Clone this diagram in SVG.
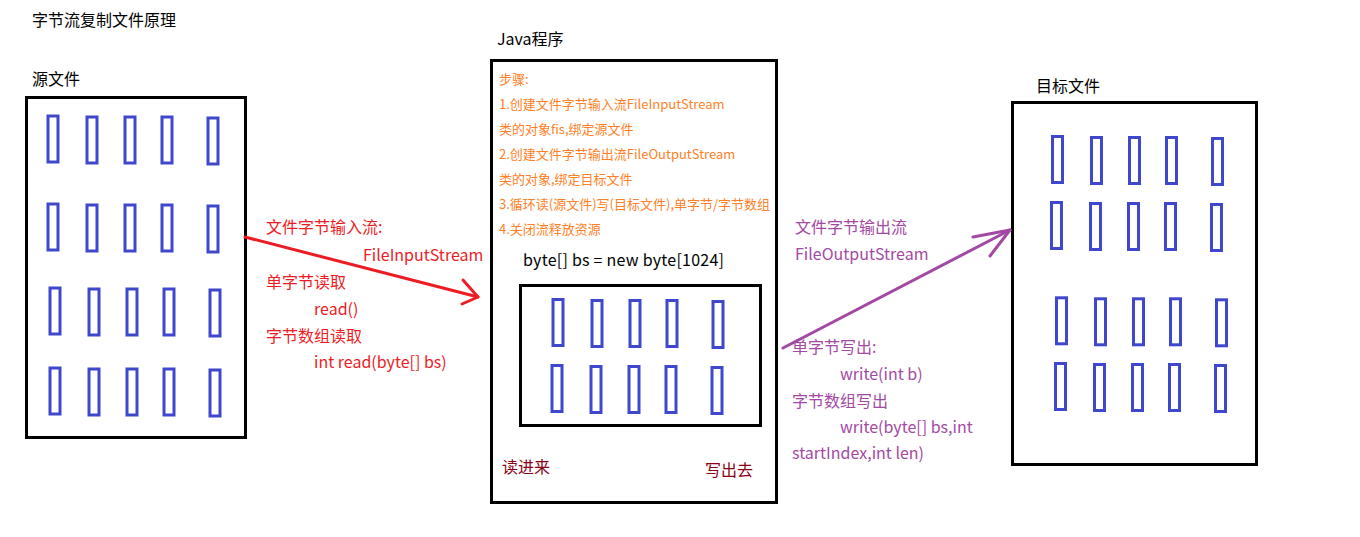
<svg xmlns="http://www.w3.org/2000/svg" width="1360" height="537" viewBox="0 0 1360 537">
<style>
text{font-family:"Noto Sans CJK SC","Microsoft YaHei",sans-serif;}
.box{fill:none;stroke:#000;stroke-width:3;}
.cell{fill:none;stroke:#3f48cc;stroke-width:3;}
.title{font-size:16px;fill:#000;}
.step{font-size:13px;fill:#ff7f27;}
.red{font-size:16px;fill:#ed1c24;}
.pur{font-size:16px;fill:#a349a4;}
.dred{font-size:16px;fill:#880015;}
.code{font-size:16px;fill:#000;}
</style>
<rect width="1360" height="537" fill="#fff"/>
<text class="title" x="32" y="26">字节流复制文件原理</text>

<g id="source">
<text class="title" x="32" y="85">源文件</text>
<rect class="box" x="26.5" y="97.5" width="219" height="340"/>
<rect class="cell" x="48" y="116" width="10" height="46"/>
<rect class="cell" x="87" y="117" width="10" height="46"/>
<rect class="cell" x="125" y="117" width="10" height="46"/>
<rect class="cell" x="162" y="117" width="10" height="46"/>
<rect class="cell" x="208" y="118" width="10" height="46"/>
<rect class="cell" x="48" y="204" width="10" height="46"/>
<rect class="cell" x="87" y="205" width="10" height="46"/>
<rect class="cell" x="125" y="205" width="10" height="46"/>
<rect class="cell" x="162" y="205" width="10" height="46"/>
<rect class="cell" x="208" y="206" width="10" height="46"/>
<rect class="cell" x="50" y="288" width="10" height="46"/>
<rect class="cell" x="89" y="289" width="10" height="46"/>
<rect class="cell" x="127" y="289" width="10" height="46"/>
<rect class="cell" x="164" y="289" width="10" height="46"/>
<rect class="cell" x="210" y="290" width="10" height="46"/>
<rect class="cell" x="50" y="368" width="10" height="46"/>
<rect class="cell" x="89" y="369" width="10" height="46"/>
<rect class="cell" x="127" y="369" width="10" height="46"/>
<rect class="cell" x="164" y="369" width="10" height="46"/>
<rect class="cell" x="210" y="370" width="10" height="46"/>
</g>

<g id="program">
<text class="title" x="497" y="45">Java程序</text>
<rect class="box" x="491.5" y="60.5" width="285" height="442"/>
<text class="step" x="499" y="84">步骤:</text>
<text class="step" x="499" y="109">1.创建文件字节输入流FileInputStream</text>
<text class="step" x="499" y="134">类的对象fis,绑定源文件</text>
<text class="step" x="499" y="159">2.创建文件字节输出流FileOutputStream</text>
<text class="step" x="499" y="184">类的对象,绑定目标文件</text>
<text class="step" x="499" y="209">3.循环读(源文件)写(目标文件),单字节/字节数组</text>
<text class="step" x="499" y="234">4.关闭流释放资源</text>
<text class="code" x="523" y="266" textLength="201">byte[] bs = new byte[1024]</text>
<g id="buffer">
<rect class="box" x="520.5" y="285.5" width="240" height="140"/>
<rect class="cell" x="553" y="299.5" width="10" height="46"/>
<rect class="cell" x="592" y="300.5" width="10" height="46"/>
<rect class="cell" x="630" y="300.5" width="10" height="46"/>
<rect class="cell" x="667" y="300.5" width="10" height="46"/>
<rect class="cell" x="713" y="301.5" width="10" height="46"/>
<rect class="cell" x="552" y="365.5" width="10" height="46"/>
<rect class="cell" x="591" y="366.5" width="10" height="46"/>
<rect class="cell" x="629" y="366.5" width="10" height="46"/>
<rect class="cell" x="666" y="366.5" width="10" height="46"/>
<rect class="cell" x="712" y="367.5" width="10" height="46"/>
</g>
<text class="dred" x="502" y="473">读进来</text>
<text class="dred" x="705" y="476">写出去</text>
</g>

<g id="target">
<text class="title" x="1036" y="92">目标文件</text>
<rect class="box" x="1012.5" y="102.5" width="244" height="362"/>
<rect class="cell" x="1052.5" y="136.5" width="10" height="46"/>
<rect class="cell" x="1091.5" y="137.5" width="10" height="46"/>
<rect class="cell" x="1129.5" y="137.5" width="10" height="46"/>
<rect class="cell" x="1166.5" y="137.5" width="10" height="46"/>
<rect class="cell" x="1212.5" y="138.5" width="10" height="46"/>
<rect class="cell" x="1051.5" y="202.5" width="10" height="46"/>
<rect class="cell" x="1090.5" y="203.5" width="10" height="46"/>
<rect class="cell" x="1128.5" y="203.5" width="10" height="46"/>
<rect class="cell" x="1165.5" y="203.5" width="10" height="46"/>
<rect class="cell" x="1211.5" y="204.5" width="10" height="46"/>
<rect class="cell" x="1056.5" y="297.8" width="10" height="46"/>
<rect class="cell" x="1095.5" y="298.8" width="10" height="46"/>
<rect class="cell" x="1133.5" y="298.8" width="10" height="46"/>
<rect class="cell" x="1170.5" y="298.8" width="10" height="46"/>
<rect class="cell" x="1216.5" y="299.8" width="10" height="46"/>
<rect class="cell" x="1055.5" y="363.5" width="10" height="46"/>
<rect class="cell" x="1094.5" y="364.5" width="10" height="46"/>
<rect class="cell" x="1132.5" y="364.5" width="10" height="46"/>
<rect class="cell" x="1169.5" y="364.5" width="10" height="46"/>
<rect class="cell" x="1215.5" y="365.5" width="10" height="46"/>
</g>

<g id="connectors" fill="none" stroke-width="3" stroke-linecap="round" stroke-linejoin="round">
<g id="read-arrow" stroke="#ed1c24">
<path d="M245 237 L478 297"/>
<path d="M463 280 L478 297 L462 304"/>
</g>
<g id="write-arrow" stroke="#a349a4">
<path d="M783 348 L1010 230"/>
<path d="M973 237 L1010 230 L990 256"/>
</g>
</g>

<g id="read-labels">
<text class="red" x="266" y="233">文件字节输入流:</text>
<text class="red" x="363" y="261">FileInputStream</text>
<text class="red" x="266" y="288">单字节读取</text>
<text class="red" x="314" y="315">read()</text>
<text class="red" x="266" y="342">字节数组读取</text>
<text class="red" x="314" y="368">int read(byte[] bs)</text>
</g>
<g id="write-labels">
<text class="pur" x="795" y="233">文件字节输出流</text>
<text class="pur" x="795" y="260">FileOutputStream</text>
<text class="pur" x="792" y="353">单字节写出:</text>
<text class="pur" x="840" y="380">write(int b)</text>
<text class="pur" x="792" y="407">字节数组写出</text>
<text class="pur" x="840" y="433">write(byte[] bs,int</text>
<text class="pur" x="792" y="459">startIndex,int len)</text>
</g>
</svg>
